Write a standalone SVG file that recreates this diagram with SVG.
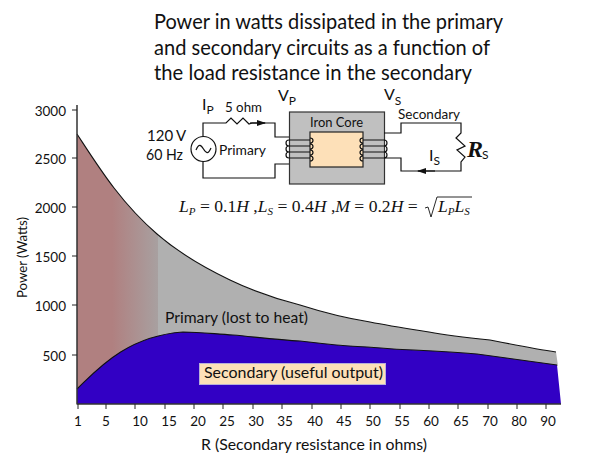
<svg xmlns="http://www.w3.org/2000/svg" width="602" height="461" viewBox="0 0 602 461">
<style>
text{font-family:Lato,"Open Sans","Noto Sans",sans-serif;fill:#111}
.t{font-size:22px}
.a{font-size:13.5px;text-anchor:middle}
.y{font-size:13.5px;text-anchor:end}
.l{font-size:15px}
.c{font-size:13.5px}
.v{font-size:16px}
.s{font-size:12px}
.m{font-family:"Liberation Serif",serif;font-size:17.6px}
.i{font-style:italic}
.w{fill:none;stroke:#111;stroke-width:1.2}
.k{fill:none;stroke:#111;stroke-width:1.1}
.tick{stroke:#222;stroke-width:1}
</style>
<defs>
<linearGradient id="heat" gradientUnits="userSpaceOnUse" x1="112" y1="0" x2="158" y2="0">
<stop offset="0" stop-color="#b08080"/><stop offset="1" stop-color="#a8a0a0"/>
</linearGradient>
<marker id="ar" markerWidth="10" markerHeight="8" refX="8" refY="3" orient="auto" markerUnits="userSpaceOnUse"><path d="M0,0L9,3L0,6z" fill="#111"/></marker>
<path id="coil" d="M289,140H310M289,146H310M289,152H310M289,158H310M310,138C314,138 314,143 310,143M310,144C314,144 314,149 310,149M310,150C314,150 314,155 310,155M310,156C314,156 314,161 310,161M289,140C285,140 285,146 289,146M289,146C285,146 285,152 289,152M289,152C285,152 285,158 289,158" fill="none" stroke="#111" stroke-width="1.2"/>
</defs>
<g id="title">
<text class="t" x="154" y="29" textLength="349" lengthAdjust="spacingAndGlyphs">Power in watts dissipated in the primary</text>
<text class="t" x="154" y="55" textLength="336" lengthAdjust="spacingAndGlyphs">and secondary circuits as a function of</text>
<text class="t" x="154" y="80" textLength="318" lengthAdjust="spacingAndGlyphs">the load resistance in the secondary</text>
</g>
<g id="chart">
<path d="M157,234C180,254 205,268 230,280C255,292 280,300 300,305C325,313 345,318 370,322C390,326 410,329 429,332C450,336 470,338 490,340C515,345 535,349 556,352L558,366L480,356L300,342L160,340L157,340Z" fill="#b0b0b0"/>
<path d="M77,134C98,166 120,202 158,234.500L158,404H77Z" fill="url(#heat)"/>
<path d="M77,389C95,372 125,336 183,332C200,332 215,334 233,335C255,337 280,340 300,341C325,344 345,346 367,347C390,349 410,350 433,351C450,352 465,353 477,354L557,365L561,404H77Z" fill="#3200c4"/>
<path class="k" d="M77,134C98,166 120,202 157,234C180,254 205,268 230,280C255,292 280,300 300,305C325,313 345,318 370,322C390,326 410,329 429,332C450,336 470,338 490,340C515,345 535,349 556,352"/>
<path class="k" d="M77,389C95,372 125,336 183,332C200,332 215,334 233,335C255,337 280,340 300,341C325,344 345,346 367,347C390,349 410,350 433,351C450,352 465,353 477,354L557,365"/>
</g>
<g id="axes">
<path d="M77,105V404.500M77,404H561" fill="none" stroke="#333" stroke-width="1.5"/>
<path class="tick" d="M72,110H77M72,158H77M72,207H77M72,256H77M72,305H77M72,355H77M78,404V409M106,404V409M135,404V409M165,404V409M194,404V409M223,404V409M253,404V409M282,404V409M312,404V409M341,404V409M370,404V409M400,404V409M429,404V409M458,404V409M488,404V409M517,404V409M546,404V409"/>
<text class="y" x="66" y="116">3000</text><text class="y" x="66" y="164">2500</text><text class="y" x="66" y="213">2000</text><text class="y" x="66" y="262">1500</text><text class="y" x="66" y="311">1000</text><text class="y" x="66" y="361">500</text>
<text class="a" x="78" y="426">1</text><text class="a" x="106" y="426">5</text><text class="a" x="140" y="426">10</text><text class="a" x="169" y="426">15</text><text class="a" x="198" y="426">20</text><text class="a" x="227" y="426">25</text><text class="a" x="256" y="426">30</text><text class="a" x="285" y="426">35</text><text class="a" x="315" y="426">40</text><text class="a" x="344" y="426">45</text><text class="a" x="373" y="426">50</text><text class="a" x="402" y="426">55</text><text class="a" x="431" y="426">60</text><text class="a" x="461" y="426">65</text><text class="a" x="490" y="426">70</text><text class="a" x="519" y="426">80</text><text class="a" x="548" y="426">90</text>
<text class="l" x="201" y="450" textLength="226" lengthAdjust="spacingAndGlyphs">R (Secondary resistance in ohms)</text>
<text class="c" transform="translate(27,298) rotate(-90)" textLength="81" lengthAdjust="spacingAndGlyphs">Power (Watts)</text>
</g>
<g id="label-primary"><text class="l" x="165" y="323" textLength="143" lengthAdjust="spacingAndGlyphs">Primary (lost to heat)</text></g>
<g id="label-secondary">
<rect x="199.500" y="363.500" width="186" height="21" fill="#fde0b8" stroke="#b9b0d8"/>
<text class="l" x="204" y="378" textLength="179" lengthAdjust="spacingAndGlyphs">Secondary (useful output)</text>
</g>
<g id="core">
<rect x="289.500" y="112" width="95" height="72" fill="#c0c0c0" stroke="#333" stroke-width="1.2"/>
<rect x="310" y="132" width="53" height="35" fill="#fde0b8" stroke="#222" stroke-width="1.2"/>
<text class="c" x="310" y="127" textLength="53" lengthAdjust="spacingAndGlyphs">Iron Core</text>
</g>
<g id="source">
<circle cx="203.500" cy="149" r="12.500" fill="#fff" stroke="#111" stroke-width="1.2"/>
<path class="w" d="M196,150C199,143 201,145 203.500,149C206,153 208,155 211,148"/>
<text class="l" x="147" y="141">120<tspan dx="3">V</tspan></text>
<text class="l" x="146" y="160" textLength="37" lengthAdjust="spacingAndGlyphs">60 Hz</text>
<text class="c" x="219" y="155" textLength="47" lengthAdjust="spacingAndGlyphs">Primary</text>
</g>
<g id="connectors">
<path class="w" d="M203,136.500V123H226L231,118L237,124L243,118L249,124L252,123H275V137H289"/>
<path class="w" d="M250,123H265" marker-end="url(#ar)"/>
<path class="w" d="M203,161.500V178H275V164H289"/>
<path class="w" d="M384,133H401V123H461V133L456,138L465,146L457,150L465,157L461,162V171H401V158H384"/>
<path class="w" d="M435,171H418" marker-end="url(#ar)"/>
<use href="#coil"/>
<use href="#coil" transform="translate(673,0) scale(-1,1)"/>
</g>
<g id="circuit-labels">
<text class="v" x="202" y="110">I<tspan class="s" dy="4">P</tspan></text>
<text class="c" x="225" y="112" textLength="37" lengthAdjust="spacingAndGlyphs">5 ohm</text>
<text class="v" x="278" y="101">V<tspan class="s" dy="4">P</tspan></text>
<text class="v" x="384" y="100">V<tspan class="s" dy="5">S</tspan></text>
<text class="c" x="398" y="119" textLength="62" lengthAdjust="spacingAndGlyphs">Secondary</text>
<text class="v" x="429" y="161">I<tspan class="s" dy="4">S</tspan></text>
<text x="467" y="157" style="font-family:'Liberation Serif',serif;font-size:24px;font-style:italic;font-weight:bold">R<tspan dx="-1" dy="2" style="font-family:Lato,sans-serif;font-size:12px;font-style:normal;font-weight:normal">S</tspan></text>
</g>
<g id="equation">
<text class="m" x="179" y="212"><tspan class="i">L</tspan><tspan class="i" font-size="11" dy="3">P</tspan><tspan dy="-3"> = 0.1</tspan><tspan class="i">H</tspan> ,<tspan class="i">L</tspan><tspan class="i" font-size="11" dy="3">S</tspan><tspan dy="-3"> = 0.4</tspan><tspan class="i">H</tspan> ,<tspan class="i">M</tspan> = 0.2<tspan class="i">H</tspan> =</text>
<path d="M425,208L428,207L431,217L437,197H472" fill="none" stroke="#111" stroke-width="0.9"/>
<text class="m" x="438" y="212"><tspan class="i">L</tspan><tspan class="i" font-size="11" dy="3">P</tspan><tspan class="i" dy="-3">L</tspan><tspan class="i" font-size="11" dy="3">S</tspan></text>
</g>
</svg>
